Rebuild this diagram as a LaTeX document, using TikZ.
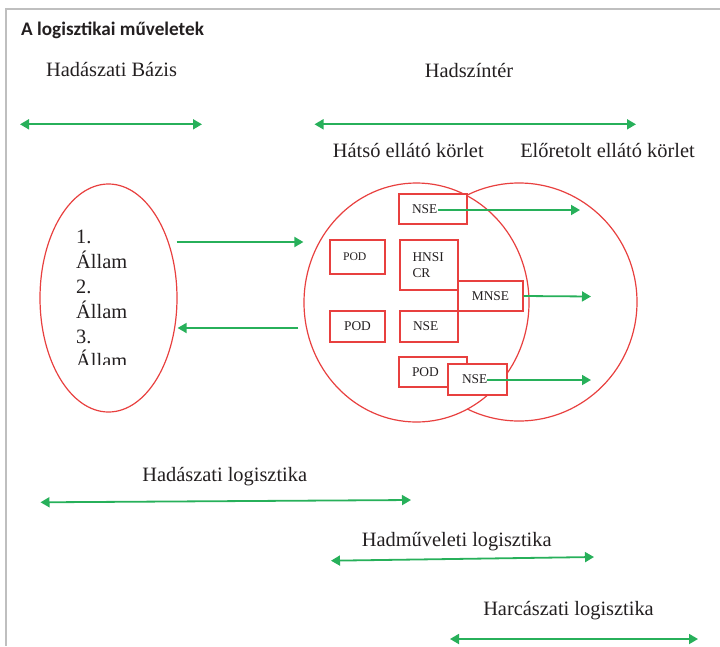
\documentclass[tikz,border=0pt]{standalone}
\usepackage{fontspec}
\setmainfont{Liberation Serif}
\newfontfamily\titlefont{Carlito}
\usetikzlibrary{arrows.meta, shapes.geometric}
\definecolor{zonered}{HTML}{E8403F}
\definecolor{flowgreen}{HTML}{27B05A}
\definecolor{framegray}{HTML}{BFBFBF}
\definecolor{ink}{HTML}{231F20}

\begin{document}
\begin{tikzpicture}[
  x=1pt, y=-1pt,
  every node/.style={font=\fontsize{20.4}{24.8}\selectfont, text=ink},
  lbl/.style={anchor=base, inner sep=0pt},
  zone/.style={ellipse, draw=zonered, line width=1.2pt, inner sep=0pt},
  unit/.style={rectangle, draw=zonered, fill=white, line width=1.3pt,
               inner xsep=0pt, inner ysep=0pt, font=\fontsize{13.4}{16.6}\selectfont},
  flow/.style={draw=flowgreen, line width=1.8pt, ->, >={Triangle[length=9pt, width=10pt]}},
  span/.style={flow, <->}
]
\useasboundingbox (0,0) rectangle (720,646);

% Frame and title
\draw[framegray, line width=1.5pt] (720,9) -- (6,9) -- (6,646);
\node[font=\titlefont\bfseries\fontsize{19.2}{22}\selectfont, anchor=base west, inner sep=0pt]
  (title) at (21,35) {A logisztikai műveletek};

% Top headings
\node[lbl] (bazis) at (111.5,76) {Hadászati Bázis};
\node[lbl] (szinter) at (469,77) {Hadszíntér};
\coordinate (bazisL) at (20,124.3);
\coordinate (bazisR) at (202,124.3);
\coordinate (szinterL) at (314.5,124.3);
\coordinate (szinterR) at (636,124.3);
\draw[span] (bazisL) -- (bazisR);
\draw[span] (szinterL) -- (szinterR);
\node[lbl] (hatsolbl) at (408.3,157) {Hátsó ellátó körlet};
\node[lbl] (elolbl) at (607.5,157) {Előretolt ellátó körlet};

% States
\node[zone, minimum width=137pt, minimum height=228pt] (allamok) at (108.5,298) {};
\begin{scope}
\clip (40,180) rectangle (177,364);
\node[anchor=north west, inner sep=0pt, align=left] (allamtxt) at (76,230.2)
  {1.\\Állam\\2.\\Állam\\3.\\Állam};
\end{scope}

% Supply zones
\node[zone, minimum width=236pt, minimum height=238pt] (eloretolt) at (519,302) {};
\node[zone, fill=white, minimum width=225pt, minimum height=239pt] (hatso) at (416.5,302.5) {};

% Units
\node[unit, align=left, text width=42pt, inner xsep=13pt, minimum height=30pt] (nsetop) at (433,209) {NSE};
\node[unit, align=left, text width=29pt, inner xsep=13pt, minimum height=34pt,
      font=\fontsize{11.7}{14}\selectfont] (podA) at (357.5,257) {POD};
\node[unit, align=left, text width=33pt, inner xsep=12.5pt, minimum height=50pt] (hnsicr) at (429,265) {HNSI\\CR};
\node[unit, minimum width=55pt, minimum height=31pt] (podB) at (357.5,326.5) {POD};
\node[unit, align=left, text width=32pt, inner xsep=13pt, minimum height=31pt] (nsemid) at (429,326.5) {NSE};
\node[unit, minimum width=65pt, minimum height=30pt] (mnse) at (490.5,296) {MNSE};
\node[unit, align=left, text width=42pt, inner xsep=13pt, minimum height=30pt] (podC) at (433,372) {POD};
\node[unit, align=left, text width=31pt, inner xsep=14pt, minimum height=31pt] (nsebot) at (477.5,379.5) {NSE};

% Flows
\draw[flow] ([shift={(-1,-56)}]allamok.east) -- ([shift={(0,-60.5)}]hatso.west);
\draw[flow] ([shift={(-5,25.5)}]hatso.west) -- ([shift={(0,30)}]allamok.east);
\coordinate (nsetopend) at (580,210);
\coordinate (mnseend) at (591,296.5);
\coordinate (nsebotend) at (591,380);
\draw[flow] ([shift={(5,1)}]nsetop.center) -- (nsetopend);
\draw[flow] (mnse.east) -- (mnseend);
\draw[flow] ([shift={(9.5,0.5)}]nsebot.center) -- (nsebotend);

% Logistics levels
\node[lbl] (strat) at (224.7,481) {Hadászati logisztika};
\node[lbl] (oper) at (456.7,546) {Hadműveleti logisztika};
\node[lbl] (takt) at (568.5,615) {Harcászati logisztika};
\coordinate (stratL) at (40.5,502.3);
\coordinate (stratR) at (411,500);
\coordinate (operL) at (331,560.7);
\coordinate (operR) at (594,557);
\coordinate (taktL) at (450,639);
\coordinate (taktR) at (698,639);
\draw[span] (stratL) -- (stratR);
\draw[span] (operL) -- (operR);
\draw[span] (taktL) -- (taktR);
\end{tikzpicture}
\end{document}
